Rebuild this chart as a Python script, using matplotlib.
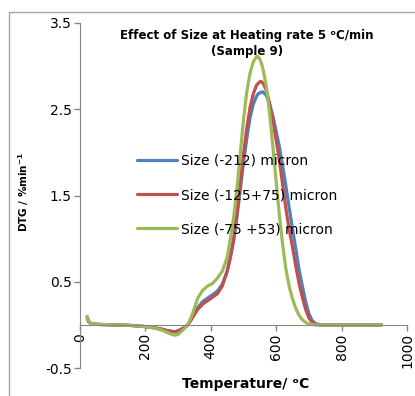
import matplotlib
matplotlib.use("Agg")
import matplotlib.pyplot as plt
from matplotlib.patches import Rectangle

plt.rcParams['font.family'] = ['DejaVu Sans']

temp = [22, 26, 32, 40, 60, 100, 150, 200, 230, 250, 265, 280, 290, 300, 315, 330,
        345, 360, 375, 390, 405, 420, 435, 450, 460, 470, 480, 490, 500, 510, 520,
        530, 540, 545, 550, 555, 560, 570, 580, 590, 600, 610, 620, 630, 640, 650,
        660, 670, 680, 690, 700, 710, 720, 735, 760, 800, 860, 922]

dtg_212 = [0.09, 0.04, 0.02, 0.01, 0.005, 0.0, -0.005, -0.02, -0.035, -0.05, -0.065, -0.075, -0.08, -0.07, -0.04, 0.0,
           0.10, 0.20, 0.27, 0.31, 0.35, 0.39, 0.47, 0.62, 0.78, 0.98, 1.25, 1.56, 1.88, 2.16, 2.40,
           2.56, 2.65, 2.68, 2.69, 2.70, 2.70, 2.66, 2.56, 2.42, 2.24, 2.06, 1.84, 1.60, 1.35, 1.11,
           0.88, 0.64, 0.45, 0.27, 0.13, 0.05, 0.015, 0.0, 0.0, 0.0, 0.0, 0.0]

dtg_125_75 = [0.09, 0.04, 0.02, 0.01, 0.005, 0.0, -0.005, -0.02, -0.035, -0.05, -0.065, -0.075, -0.08, -0.07, -0.04, 0.0,
              0.09, 0.18, 0.24, 0.28, 0.32, 0.36, 0.45, 0.62, 0.80, 1.00, 1.30, 1.64, 1.98, 2.28, 2.52,
              2.68, 2.78, 2.80, 2.82, 2.82, 2.80, 2.72, 2.56, 2.36, 2.14, 1.90, 1.62, 1.34, 1.10, 0.90,
              0.68, 0.48, 0.32, 0.18, 0.08, 0.03, 0.01, 0.0, 0.0, 0.0, 0.0, 0.0]

dtg_75_53 = [0.10, 0.05, 0.02, 0.01, 0.005, 0.0, -0.005, -0.02, -0.04, -0.06, -0.085, -0.11, -0.12, -0.11, -0.06, 0.0,
             0.14, 0.31, 0.40, 0.45, 0.48, 0.54, 0.62, 0.78, 1.00, 1.25, 1.58, 1.98, 2.38, 2.70, 2.92,
             3.05, 3.11, 3.11, 3.08, 3.03, 2.96, 2.76, 2.45, 2.06, 1.66, 1.26, 0.92, 0.64, 0.44, 0.30,
             0.19, 0.11, 0.06, 0.03, 0.01, 0.005, 0.0, 0.0, 0.0, 0.0, 0.0, 0.0]

series_labels = ["Size (-212) micron", "Size (-125+75) micron", "Size (-75 +53) micron"]
colors = ["#4F81BD", "#C0504D", "#9BBB59"]
x_ticks = [0, 200, 400, 600, 800, 1000]
y_ticks = [-0.5, 0.5, 1.5, 2.5, 3.5]

W, H = 415, 396
fig = plt.figure(figsize=(W / 100, H / 100), dpi=100)
ax = fig.add_axes([80 / W, 1 - 368 / H, 327 / W, 345 / H])

for y, lab, c in zip([dtg_212, dtg_125_75, dtg_75_53], series_labels, colors):
    ax.plot(temp, y, color=c, lw=2.3, label=lab, solid_capstyle='round', solid_joinstyle='round')

ax.set_xlim(0, 1000)
ax.set_ylim(-0.5, 3.5)
ax.set_xticks(x_ticks)
ax.set_xticklabels([str(v) for v in x_ticks], fontsize=10)
ax.set_yticks(y_ticks)
ax.set_yticklabels([str(v) for v in y_ticks], fontsize=10)

spine_col = "#868686"
for s in ['top', 'right']:
    ax.spines[s].set_visible(False)
ax.spines['bottom'].set_position(('data', 0))
ax.spines['bottom'].set_color(spine_col)
ax.spines['left'].set_color(spine_col)
ax.tick_params(axis='both', direction='out', length=4, color=spine_col, width=1, pad=2)
ax.tick_params(axis='x', labelrotation=90)

fig.text(246 / W, 1 - 384 / H, "Temperature/ ᵒC", ha='center', va='center',
         fontsize=10, fontweight='bold')
fig.text(24 / W, 1 - 192 / H, "DTG / %min$^{\\mathbf{-1}}$", ha='center', va='center',
         rotation=90, fontsize=7.5, fontweight='bold')

fig.text(247 / W, 1 - 35 / H, "Effect of Size at Heating rate 5 ᵒC/min", ha='center', va='center',
         fontsize=8.5, fontweight='bold')
fig.text(247 / W, 1 - 52 / H, "(Sample 9)", ha='center', va='center',
         fontsize=8.5, fontweight='bold')

ax.legend(loc='upper left', bbox_to_anchor=((137 - 80) / 327, (368 - 154) / 345),
          frameon=False, fontsize=10, handlelength=2.9, handletextpad=0.3,
          labelspacing=1.45, borderpad=0, borderaxespad=0)

fig.patches.append(Rectangle((9 / W, -0.05), 1.2, 1 - 12 / H + 0.05, transform=fig.transFigure,
                             fill=False, edgecolor="#a6a6a6", lw=1, clip_on=False))

fig.savefig("out.png", dpi=100)
